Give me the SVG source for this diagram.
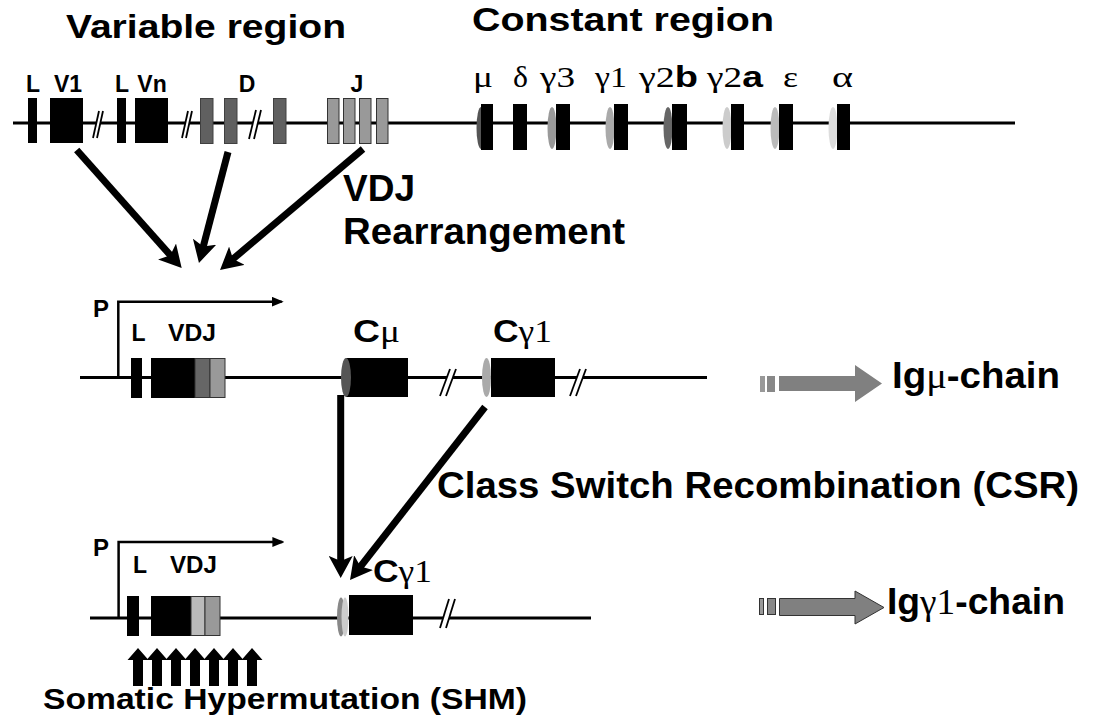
<svg xmlns="http://www.w3.org/2000/svg" width="1094" height="721" viewBox="0 0 1094 721">
<style>
.sans{font-family:"Liberation Sans",Arial,sans-serif;font-weight:bold;fill:#000}
.serif{font-family:"Liberation Serif","Times New Roman",serif;font-weight:normal;fill:#000}
.dna{stroke:#000;stroke-width:3;fill:none}
.blk{fill:#000}
.brk{fill:#fff;stroke:none}
.brkl{stroke:#000;stroke-width:1.8}
.big{stroke:#000;stroke-width:7;fill:none;marker-end:url(#bigHead)}
.prom{stroke:#000;stroke-width:2.5;fill:none;marker-end:url(#smallHead)}
</style>
<defs>
<marker id="bigHead" viewBox="0 0 22 24" markerUnits="userSpaceOnUse" markerWidth="22" markerHeight="24" refX="10" refY="12" orient="auto">
<path d="M0,0 L22,12 L0,24 L5,12 Z" fill="#000"/>
</marker>
<marker id="smallHead" viewBox="0 0 12 10" markerUnits="userSpaceOnUse" markerWidth="12" markerHeight="10" refX="10" refY="5" orient="auto">
<path d="M0,0 L12,5 L0,10 Z" fill="#000"/>
</marker>
</defs>
<rect width="1094" height="721" fill="#fff"/>

<g id="titles">
<text class="sans" x="66" y="38" font-size="34" textLength="280" lengthAdjust="spacingAndGlyphs">Variable region</text>
<text class="sans" x="472" y="31" font-size="34" textLength="302" lengthAdjust="spacingAndGlyphs">Constant region</text>
</g>

<g id="germline-variable">
<line class="dna" x1="13" y1="123" x2="470" y2="123"/>
<rect class="blk" x="28" y="98" width="9" height="45"/>
<rect class="blk" x="50" y="98" width="33" height="45"/>
<rect class="blk" x="117" y="98" width="9" height="45"/>
<rect class="blk" x="135" y="98" width="33" height="45"/>
<polygon class="brk" points="93,138 99,111 103,111 97,138"/>
<line class="brkl" x1="93" y1="138" x2="99" y2="111"/><line class="brkl" x1="97" y1="138" x2="103" y2="111"/>
<polygon class="brk" points="182,138 188,111 192,111 186,138"/>
<line class="brkl" x1="182" y1="138" x2="188" y2="111"/><line class="brkl" x1="186" y1="138" x2="192" y2="111"/>
<polygon class="brk" points="249,139 256,110 261,110 254,139"/>
<line class="brkl" x1="249" y1="139" x2="256" y2="110"/><line class="brkl" x1="254" y1="139" x2="261" y2="110"/>
<g fill="#606060" stroke="#404040" stroke-width="1">
<rect x="200.5" y="98.5" width="12.5" height="45"/>
<rect x="224.5" y="98.5" width="12.5" height="45"/>
<rect x="273.5" y="98.5" width="12.5" height="45"/>
</g>
<g fill="#999" stroke="#333" stroke-width="1">
<rect x="327.5" y="98.5" width="11.5" height="45"/>
<rect x="343.5" y="98.5" width="11.5" height="45"/>
<rect x="359.5" y="98.5" width="11.5" height="45"/>
<rect x="376.5" y="98.5" width="11.5" height="45"/>
</g>
<g class="sans" font-size="23" text-anchor="middle">
<text x="33" y="92">L</text>
<text x="68" y="92">V1</text>
<text x="122" y="92">L</text>
<text x="152" y="92">Vn</text>
<text x="247" y="92">D</text>
<text x="357" y="92">J</text>
</g>
</g>

<g id="germline-constant">
<line class="dna" x1="470" y1="123" x2="1015" y2="123"/>
<ellipse cx="481" cy="128" rx="4.5" ry="21" fill="#555"/>
<rect class="blk" x="481" y="104" width="12" height="46"/>
<rect class="blk" x="513" y="104" width="14" height="46"/>
<ellipse cx="552" cy="128" rx="4.5" ry="21" fill="#999"/>
<rect class="blk" x="556" y="104" width="14" height="46"/>
<ellipse cx="610" cy="128" rx="4.5" ry="21" fill="#aaa"/>
<rect class="blk" x="614" y="104" width="14" height="46"/>
<ellipse cx="668" cy="128" rx="4.5" ry="21" fill="#666"/>
<rect class="blk" x="672" y="104" width="15" height="46"/>
<ellipse cx="727" cy="128" rx="4.5" ry="21" fill="#ccc"/>
<rect class="blk" x="731" y="104" width="13" height="46"/>
<ellipse cx="775" cy="128" rx="4.5" ry="21" fill="#bbb"/>
<rect class="blk" x="779" y="104" width="14" height="46"/>
<ellipse cx="833" cy="128" rx="4.5" ry="21" fill="#ddd"/>
<rect class="blk" x="837" y="104" width="13" height="46"/>
<g font-size="29">
<text class="serif" x="473" y="87" textLength="20" lengthAdjust="spacingAndGlyphs">μ</text>
<text class="serif" x="513" y="87" textLength="15" lengthAdjust="spacingAndGlyphs">δ</text>
<text class="serif" x="540" y="87" textLength="35" lengthAdjust="spacingAndGlyphs">γ3</text>
<text class="serif" x="595" y="87" textLength="32" lengthAdjust="spacingAndGlyphs">γ1</text>
<text x="639" y="87" textLength="59" lengthAdjust="spacingAndGlyphs"><tspan class="serif">γ2</tspan><tspan class="sans">b</tspan></text>
<text x="707" y="87" textLength="56" lengthAdjust="spacingAndGlyphs"><tspan class="serif">γ2</tspan><tspan class="sans">a</tspan></text>
<text class="serif" x="783" y="87" textLength="15" lengthAdjust="spacingAndGlyphs">ε</text>
<text class="serif" x="832" y="87" textLength="21" lengthAdjust="spacingAndGlyphs">α</text>
</g>
</g>

<g id="vdj-label">
<text class="sans" x="343" y="201" font-size="36" textLength="72" lengthAdjust="spacingAndGlyphs">VDJ</text>
<text class="sans" x="343" y="244" font-size="36" textLength="282" lengthAdjust="spacingAndGlyphs">Rearrangement</text>
</g>

<g id="rearranged-mu">
<line class="dna" x1="80" y1="377.5" x2="707" y2="377.5"/>
<polyline class="prom" points="118.3,377 118.3,301.7 281.7,301.7"/>
<text class="sans" x="93" y="317" font-size="24">P</text>
<rect class="blk" x="131" y="358" width="11" height="40"/>
<rect class="blk" x="151" y="358" width="44" height="40"/>
<rect x="195" y="358.5" width="15" height="39" fill="#666" stroke="#333" stroke-width="1"/>
<rect x="210" y="358.5" width="15" height="39" fill="#999" stroke="#333" stroke-width="1"/>
<text class="sans" x="131.5" y="341" font-size="23">L</text>
<text class="sans" x="168" y="341" font-size="23" textLength="48" lengthAdjust="spacingAndGlyphs">VDJ</text>
<rect class="blk" x="346" y="358" width="62" height="39"/>
<ellipse cx="346" cy="377.5" rx="5" ry="19.5" fill="#555"/>
<polygon class="brk" points="440,396 450,369 456,369 446,396"/>
<line class="brkl" x1="440" y1="396" x2="450" y2="369"/><line class="brkl" x1="446" y1="396" x2="456" y2="369"/>
<ellipse cx="486.5" cy="377.5" rx="4.5" ry="19.5" fill="#aaa"/>
<rect class="blk" x="491" y="358" width="64" height="39"/>
<polygon class="brk" points="570,396 580,369 586,369 576,396"/>
<line class="brkl" x1="570" y1="396" x2="580" y2="369"/><line class="brkl" x1="576" y1="396" x2="586" y2="369"/>
<text x="353" y="342" font-size="32" textLength="47" lengthAdjust="spacingAndGlyphs"><tspan class="sans">C</tspan><tspan class="serif">μ</tspan></text>
<text x="493" y="342" font-size="32" textLength="59" lengthAdjust="spacingAndGlyphs"><tspan class="sans">C</tspan><tspan class="serif">γ1</tspan></text>
</g>

<g id="igmu-output">
<rect x="760" y="376" width="5" height="16" fill="#999"/>
<rect x="767" y="376" width="8" height="16" fill="#888"/>
<polygon points="779,376 855,376 855,365 882,383.5 855,402 855,391 779,391" fill="#808080"/>
<text x="892" y="388" font-size="36" textLength="168" lengthAdjust="spacingAndGlyphs"><tspan class="sans">Ig</tspan><tspan class="serif">μ</tspan><tspan class="sans">-chain</tspan></text>
</g>

<g id="csr-label">
<text class="sans" x="437" y="498" font-size="37" textLength="642" lengthAdjust="spacingAndGlyphs">Class Switch Recombination (CSR)</text>
</g>

<g id="rearranged-gamma1">
<line class="dna" x1="90" y1="618" x2="591" y2="618"/>
<polyline class="prom" points="118.6,618 118.6,542 282.4,542"/>
<text class="sans" x="93" y="556" font-size="24">P</text>
<rect class="blk" x="127" y="596" width="12" height="40"/>
<rect class="blk" x="151" y="596" width="40" height="40"/>
<rect x="191" y="596.5" width="14" height="39" fill="#bbb" stroke="#333" stroke-width="1"/>
<rect x="205" y="596.5" width="15" height="39" fill="#999" stroke="#333" stroke-width="1"/>
<text class="sans" x="133" y="573" font-size="23">L</text>
<text class="sans" x="170" y="573" font-size="23" textLength="47" lengthAdjust="spacingAndGlyphs">VDJ</text>
<ellipse cx="341" cy="617" rx="4" ry="19.5" fill="#888"/>
<ellipse cx="345" cy="617" rx="3.5" ry="19.5" fill="#ccc"/>
<rect class="blk" x="349" y="595" width="64" height="40"/>
<polygon class="brk" points="440,628 449,599 455,599 446,628"/>
<line class="brkl" x1="440" y1="628" x2="449" y2="599"/><line class="brkl" x1="446" y1="628" x2="455" y2="599"/>
<text x="373" y="582" font-size="32" textLength="59" lengthAdjust="spacingAndGlyphs"><tspan class="sans">C</tspan><tspan class="serif">γ1</tspan></text>
</g>

<g id="iggamma1-output">
<rect x="759.5" y="598.5" width="4" height="16" fill="#999" stroke="#333" stroke-width="1"/>
<rect x="767.5" y="598.5" width="8" height="16" fill="#888" stroke="#333" stroke-width="1"/>
<polygon points="779.5,598.5 855,598.5 855,591 884,607.5 855,624 855,615.5 779.5,615.5" fill="#808080" stroke="#333" stroke-width="1"/>
<text x="887" y="614" font-size="36" textLength="178" lengthAdjust="spacingAndGlyphs"><tspan class="sans">Ig</tspan><tspan class="serif">γ1</tspan><tspan class="sans">-chain</tspan></text>
</g>

<g id="shm">
<g fill="#000">
<polygon points="133,686 133,660 127.5,660 138,648 148.5,660 143,660 143,686"/>
<polygon points="152,686 152,660 146.5,660 157,648 167.5,660 162,660 162,686"/>
<polygon points="171,686 171,660 165.5,660 176,648 186.5,660 181,660 181,686"/>
<polygon points="190,686 190,660 184.5,660 195,648 205.5,660 200,660 200,686"/>
<polygon points="209,686 209,660 203.5,660 214,648 224.5,660 219,660 219,686"/>
<polygon points="228,686 228,660 222.5,660 233,648 243.5,660 238,660 238,686"/>
<polygon points="247,686 247,660 241.5,660 252,648 262.5,660 257,660 257,686"/>
</g>
<text class="sans" x="43" y="709" font-size="29" textLength="484" lengthAdjust="spacingAndGlyphs">Somatic Hypermutation (SHM)</text>
</g>

<g id="connectors">
<line class="big" x1="76.7" y1="150" x2="173.7" y2="259"/>
<line class="big" x1="228" y1="152" x2="202" y2="251.4"/>
<line class="big" x1="363" y1="149" x2="229.2" y2="262.2"/>
<line class="big" x1="340.7" y1="395" x2="340.7" y2="566"/>
<line class="big" x1="485" y1="407" x2="357.4" y2="570.5"/>
</g>
</svg>
